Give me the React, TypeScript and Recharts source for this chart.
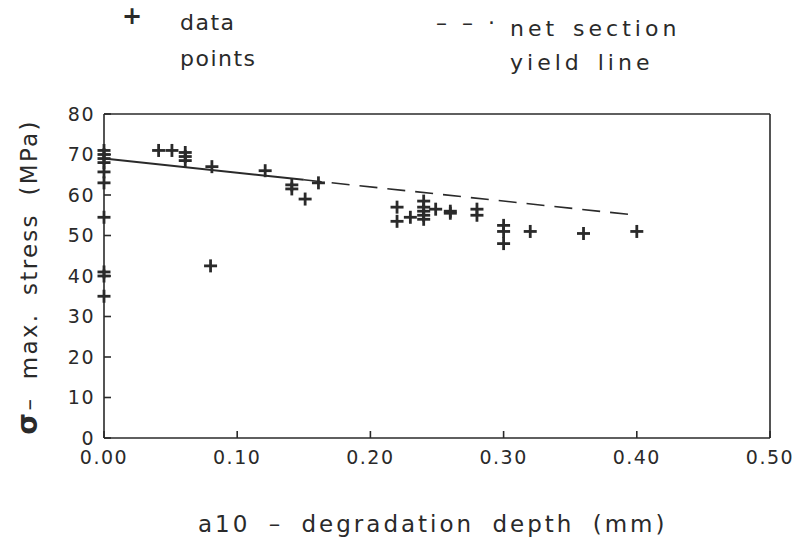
import React from 'react';
import { ComposedChart, Scatter, Line, XAxis, YAxis, ReferenceLine } from 'recharts';

// measured points: depth (mm) vs max stress (MPa)
const depthMm = [
  0, 0, 0, 0, 0, 0, 0, 0, 0, 0,
  0.041, 0.051, 0.061, 0.061, 0.061, 0.081, 0.08,
  0.121, 0.141, 0.141, 0.151, 0.161,
  0.22, 0.22, 0.23, 0.24, 0.24, 0.24, 0.24, 0.24, 0.249, 0.26, 0.26,
  0.28, 0.28, 0.30, 0.30, 0.30, 0.32, 0.36, 0.40,
];
const stressMPa = [
  71, 70, 69, 68, 65.7, 63, 54.5, 41, 40, 35,
  71, 71, 70.5, 69.5, 68.5, 67, 42.5,
  66, 62.5, 61.5, 59, 63,
  57, 53.5, 54.5, 58.5, 57, 56, 55, 54, 56.5, 56, 55.5,
  56.5, 55, 52.5, 51, 48, 51, 50.5, 51,
];

// net section yield line (solid part, then dashed part)
const yieldSolidX = [0, 0.15];
const yieldSolidY = [69, 63.75];
const yieldDashX = [0.15, 0.40];
const yieldDashY = [63.75, 55];

const xTicks = [0, 0.1, 0.2, 0.3, 0.4, 0.5];
const yTicks = [0, 10, 20, 30, 40, 50, 60, 70, 80];

const points = depthMm.map((x, i) => ({ x, y: stressMPa[i] }));
const solid = yieldSolidX.map((x, i) => ({ x, y: yieldSolidY[i] }));
const dashed = yieldDashX.map((x, i) => ({ x, y: yieldDashY[i] }));

const ink = '#2a2a2a';
const font = '"DejaVu Sans", sans-serif';

const Plus = (props: any) => {
  const { cx, cy } = props;
  if (cx == null || cy == null) return null;
  return (
    <g stroke={ink} strokeWidth={2.8}>
      <line x1={cx - 6.5} x2={cx + 6.5} y1={cy} y2={cy} />
      <line x1={cx} x2={cx} y1={cy - 6.5} y2={cy + 6.5} />
    </g>
  );
};

const tickStyle = { fill: ink, fontSize: 19, fontFamily: font, letterSpacing: 1.5 };

export default function App() {
  return (
    <div style={{ position: 'absolute', left: 0, top: 0, width: 793, height: 548, background: '#fff', fontFamily: font, color: ink }}>
      <div style={{ position: 'absolute', left: 122, top: 2, fontSize: 24, fontWeight: 700 }}>+</div>
      <div style={{ position: 'absolute', left: 180, top: 5, fontSize: 22, lineHeight: '36px', letterSpacing: 1.5 }}>
        data<br />points
      </div>
      <div style={{ position: 'absolute', left: 436, top: 5, fontSize: 22, lineHeight: '36px', letterSpacing: 4 }}>
        – – ·
      </div>
      <div style={{ position: 'absolute', left: 510, top: 12, fontSize: 22, lineHeight: '34px', letterSpacing: 4, wordSpacing: 4 }}>
        net section<br />yield line
      </div>

      <ComposedChart width={793} height={548} margin={{ top: 114, right: 23, bottom: 50, left: 44 }}>
        <XAxis
          type="number"
          dataKey="x"
          domain={[0, 0.5]}
          ticks={xTicks}
          tickFormatter={(v: number) => v.toFixed(2)}
          stroke={ink}
          strokeWidth={1.6}
          tickSize={-7}
          tickMargin={20}
          tick={tickStyle}
          height={60}
        />
        <YAxis
          type="number"
          dataKey="y"
          domain={[0, 80]}
          ticks={yTicks}
          stroke={ink}
          strokeWidth={1.6}
          tickSize={-7}
          tickMargin={16}
          tick={tickStyle}
          width={60}
        />
        <ReferenceLine y={80} stroke={ink} strokeWidth={1.6} />
        <ReferenceLine x={0.5} stroke={ink} strokeWidth={1.6} />
        <Line data={solid} dataKey="y" type="linear" stroke={ink} strokeWidth={2} dot={false} isAnimationActive={false} />
        <Line data={dashed} dataKey="y" type="linear" stroke={ink} strokeWidth={1.6} strokeDasharray="18 10" dot={false} isAnimationActive={false} />
        <Scatter data={points} shape={<Plus />} isAnimationActive={false} />
      </ComposedChart>

      <div style={{ position: 'absolute', left: 198, top: 511, fontSize: 23, letterSpacing: 3, wordSpacing: 8, whiteSpace: 'nowrap' }}>
        a10 – degradation depth (mm)
      </div>
      <div
        style={{
          position: 'absolute', left: 27, top: 277, textAlign: 'center',
          fontSize: 23, letterSpacing: 2.3, wordSpacing: 8, whiteSpace: 'nowrap',
          transform: 'translate(-50%, -50%) rotate(-90deg)',
        }}
      >
        <b style={{ fontSize: 28 }}>σ</b>– max. stress (MPa)
      </div>
    </div>
  );
}
